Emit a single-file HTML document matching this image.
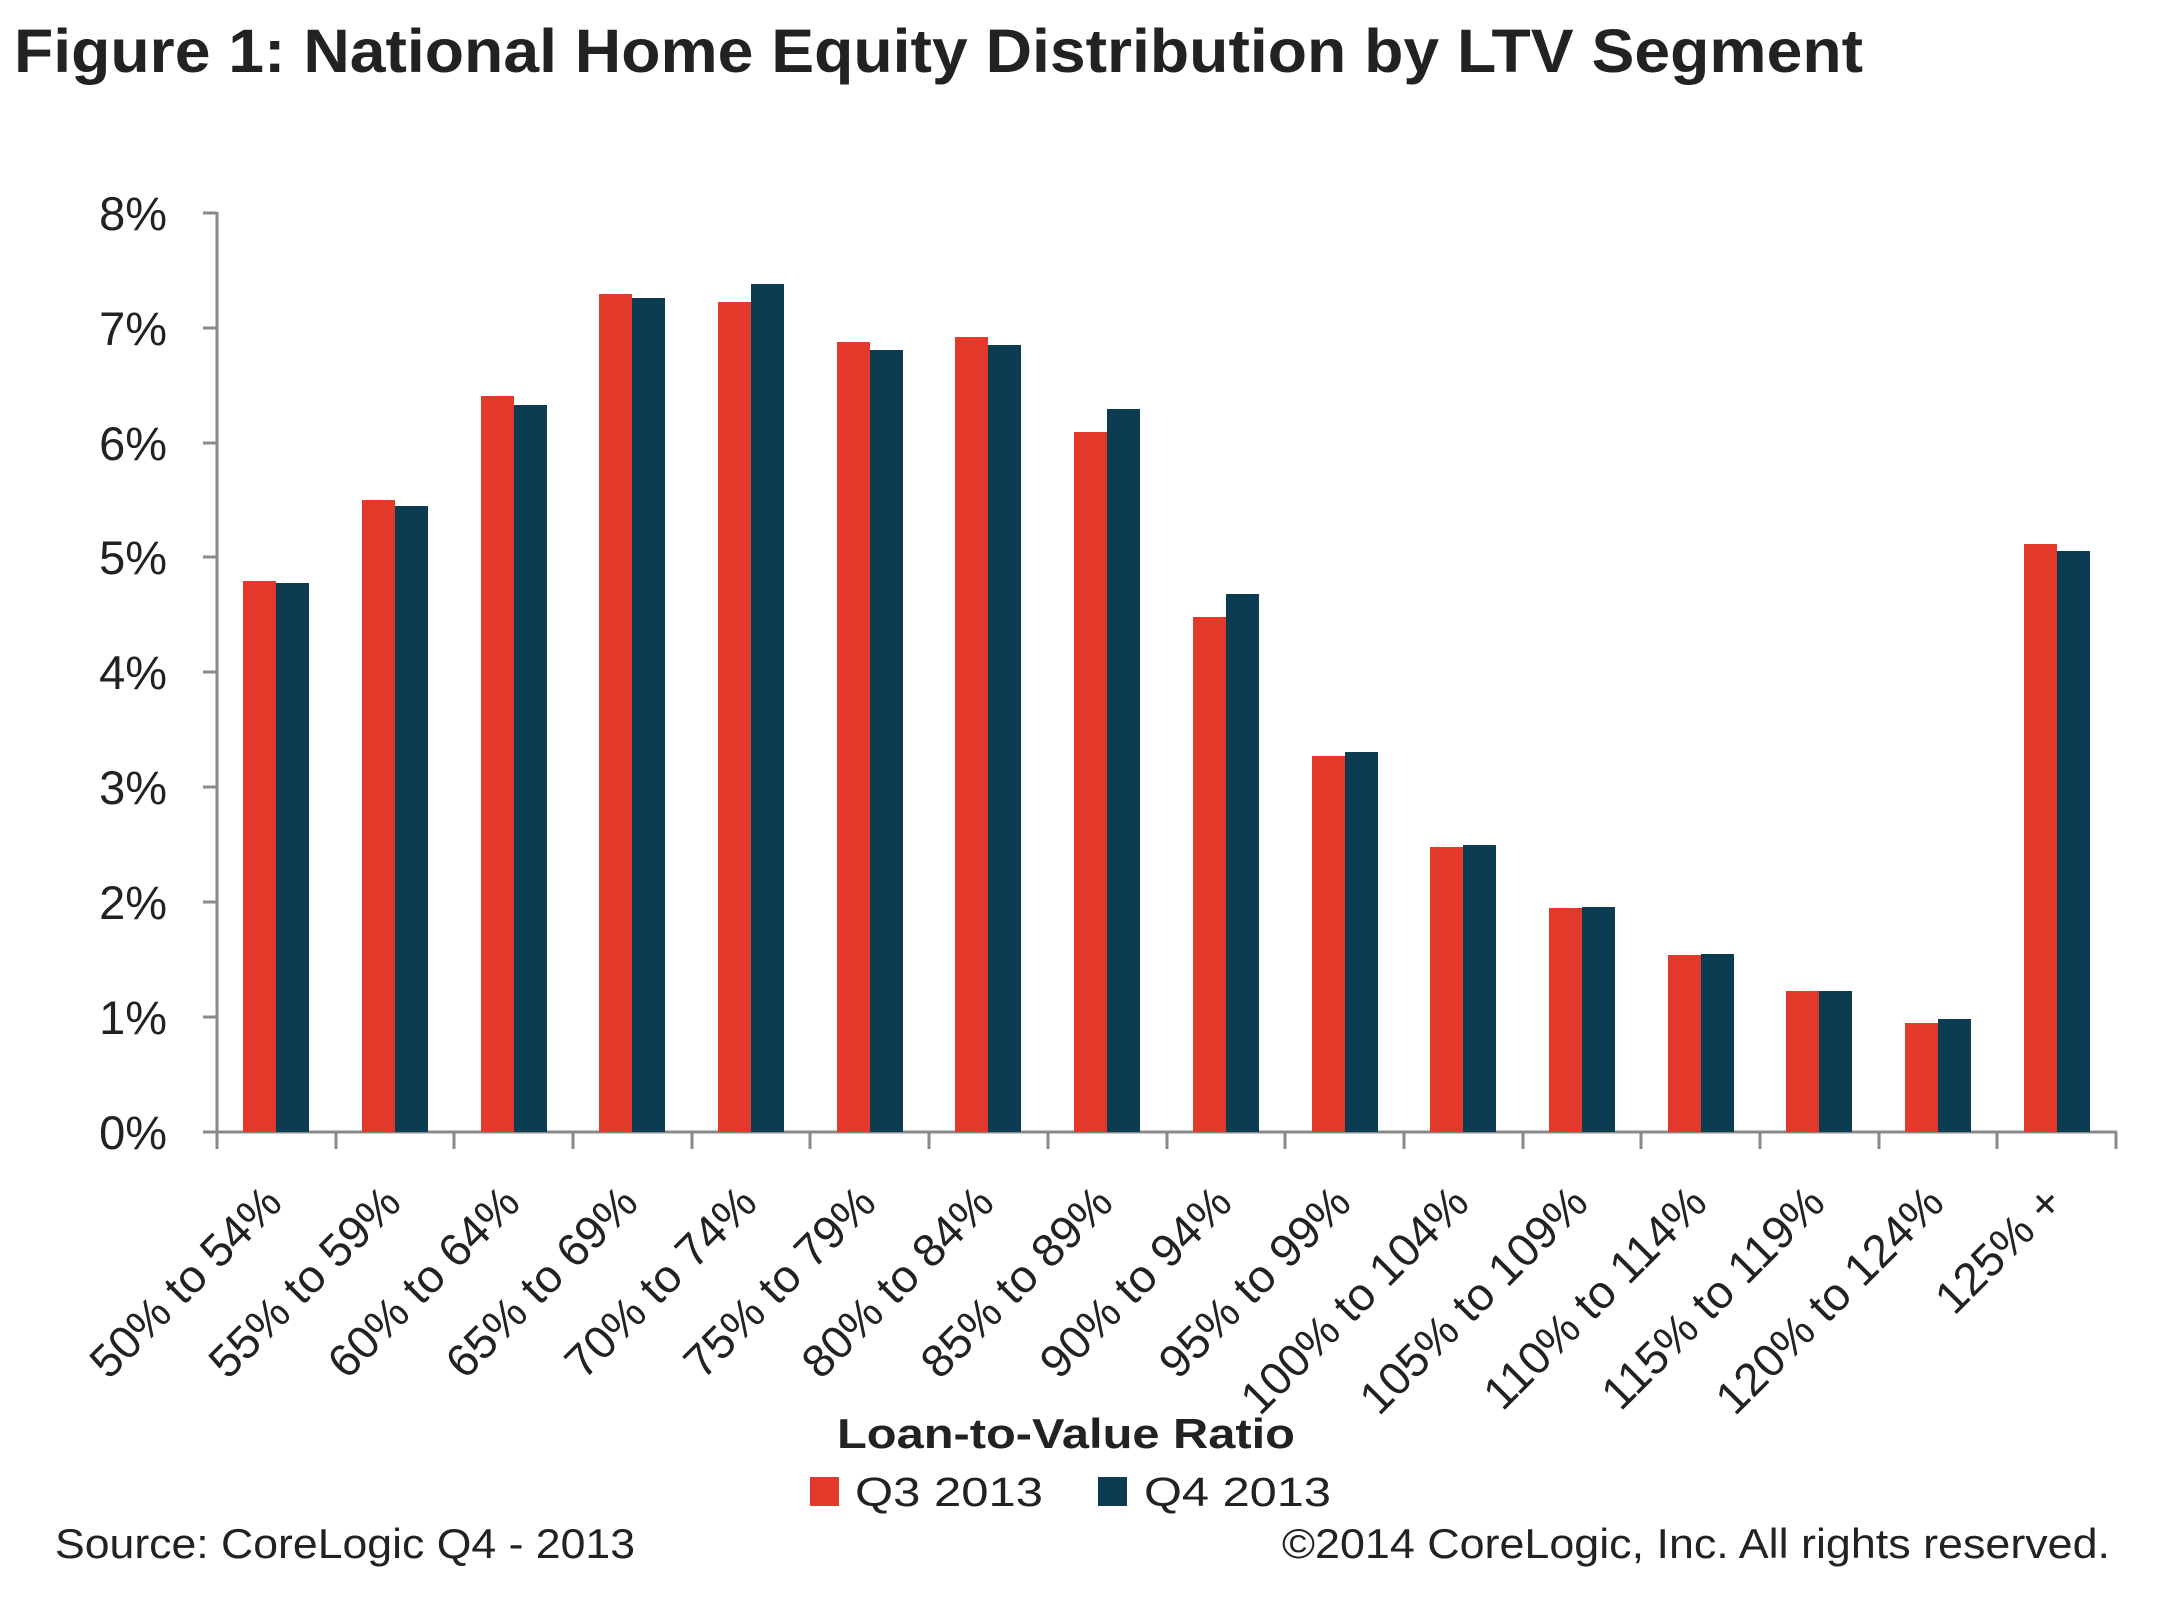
<!DOCTYPE html>
<html>
<head>
<meta charset="utf-8">
<style>
  html, body { margin: 0; padding: 0; background: #ffffff; }
  body { width: 2160px; height: 1615px; overflow: hidden; }
  svg { display: block; }
  text { font-family: "Liberation Sans", Arial, sans-serif; fill: #222; }
</style>
</head>
<body>
<svg width="2160" height="1615" viewBox="0 0 2160 1615" xmlns="http://www.w3.org/2000/svg">
  <rect x="0" y="0" width="2160" height="1615" fill="#ffffff"/>

  <!-- Title -->
  <text x="14" y="72" font-size="61" font-weight="bold" fill="#111" textLength="1849" lengthAdjust="spacingAndGlyphs">Figure 1: National Home Equity Distribution by LTV Segment</text>

  <!-- Y axis -->
  <g stroke="#8a8a8a" stroke-width="3" fill="none">
    <line x1="217" y1="212" x2="217" y2="1133"/>
    <line x1="203" y1="213" x2="217" y2="213"/>
    <line x1="203" y1="328" x2="217" y2="328"/>
    <line x1="203" y1="443" x2="217" y2="443"/>
    <line x1="203" y1="557" x2="217" y2="557"/>
    <line x1="203" y1="672" x2="217" y2="672"/>
    <line x1="203" y1="787" x2="217" y2="787"/>
    <line x1="203" y1="902" x2="217" y2="902"/>
    <line x1="203" y1="1017" x2="217" y2="1017"/>
    <line x1="203" y1="1132" x2="2117" y2="1132"/>
  </g>

  <!-- Y labels -->
  <g font-size="47" text-anchor="end" fill="#2a2a2a">
    <text x="167" y="230">8%</text>
    <text x="167" y="345">7%</text>
    <text x="167" y="460">6%</text>
    <text x="167" y="574">5%</text>
    <text x="167" y="689">4%</text>
    <text x="167" y="804">3%</text>
    <text x="167" y="919">2%</text>
    <text x="167" y="1034">1%</text>
    <text x="167" y="1149">0%</text>
  </g>

  <!-- X ticks -->
  <g stroke="#8a8a8a" stroke-width="3">
    <line x1="217" y1="1132" x2="217" y2="1149"/>
    <line x1="336" y1="1132" x2="336" y2="1149"/>
    <line x1="454" y1="1132" x2="454" y2="1149"/>
    <line x1="573" y1="1132" x2="573" y2="1149"/>
    <line x1="692" y1="1132" x2="692" y2="1149"/>
    <line x1="810" y1="1132" x2="810" y2="1149"/>
    <line x1="929" y1="1132" x2="929" y2="1149"/>
    <line x1="1048" y1="1132" x2="1048" y2="1149"/>
    <line x1="1167" y1="1132" x2="1167" y2="1149"/>
    <line x1="1285" y1="1132" x2="1285" y2="1149"/>
    <line x1="1404" y1="1132" x2="1404" y2="1149"/>
    <line x1="1523" y1="1132" x2="1523" y2="1149"/>
    <line x1="1641" y1="1132" x2="1641" y2="1149"/>
    <line x1="1760" y1="1132" x2="1760" y2="1149"/>
    <line x1="1879" y1="1132" x2="1879" y2="1149"/>
    <line x1="1997" y1="1132" x2="1997" y2="1149"/>
    <line x1="2116" y1="1132" x2="2116" y2="1149"/>
  </g>

  <!-- Bars -->
  <g fill="#e2392a">
    <rect x="243" y="581" width="33" height="551"/>
    <rect x="362" y="500" width="33" height="632"/>
    <rect x="481" y="396" width="33" height="736"/>
    <rect x="599" y="294" width="33" height="838"/>
    <rect x="718" y="302" width="33" height="830"/>
    <rect x="837" y="342" width="33" height="790"/>
    <rect x="955" y="337" width="33" height="795"/>
    <rect x="1074" y="432" width="33" height="700"/>
    <rect x="1193" y="617" width="33" height="515"/>
    <rect x="1312" y="756" width="33" height="376"/>
    <rect x="1430" y="847" width="33" height="285"/>
    <rect x="1549" y="908" width="33" height="224"/>
    <rect x="1668" y="955" width="33" height="177"/>
    <rect x="1786" y="991" width="33" height="141"/>
    <rect x="1905" y="1023" width="33" height="109"/>
    <rect x="2024" y="544" width="33" height="588"/>
  </g>
  <g fill="#0c3c52">
    <rect x="276" y="583" width="33" height="549"/>
    <rect x="395" y="506" width="33" height="626"/>
    <rect x="514" y="405" width="33" height="727"/>
    <rect x="632" y="298" width="33" height="834"/>
    <rect x="751" y="284" width="33" height="848"/>
    <rect x="870" y="350" width="33" height="782"/>
    <rect x="988" y="345" width="33" height="787"/>
    <rect x="1107" y="409" width="33" height="723"/>
    <rect x="1226" y="594" width="33" height="538"/>
    <rect x="1345" y="752" width="33" height="380"/>
    <rect x="1463" y="845" width="33" height="287"/>
    <rect x="1582" y="907" width="33" height="225"/>
    <rect x="1701" y="954" width="33" height="178"/>
    <rect x="1819" y="991" width="33" height="141"/>
    <rect x="1938" y="1019" width="33" height="113"/>
    <rect x="2057" y="551" width="33" height="581"/>
  </g>

  <!-- X labels (rotated -45) -->
  <g font-size="46" text-anchor="end" dominant-baseline="central" fill="#1e1e1e">
    <text x="273" y="1194" transform="rotate(-45 273 1194)">50% to 54%</text>
    <text x="392" y="1194" transform="rotate(-45 392 1194)">55% to 59%</text>
    <text x="511" y="1194" transform="rotate(-45 511 1194)">60% to 64%</text>
    <text x="629" y="1194" transform="rotate(-45 629 1194)">65% to 69%</text>
    <text x="748" y="1194" transform="rotate(-45 748 1194)">70% to 74%</text>
    <text x="867" y="1194" transform="rotate(-45 867 1194)">75% to 79%</text>
    <text x="985" y="1194" transform="rotate(-45 985 1194)">80% to 84%</text>
    <text x="1104" y="1194" transform="rotate(-45 1104 1194)">85% to 89%</text>
    <text x="1223" y="1194" transform="rotate(-45 1223 1194)">90% to 94%</text>
    <text x="1342" y="1194" transform="rotate(-45 1342 1194)">95% to 99%</text>
    <text x="1460" y="1194" transform="rotate(-45 1460 1194)">100% to 104%</text>
    <text x="1579" y="1194" transform="rotate(-45 1579 1194)">105% to 109%</text>
    <text x="1698" y="1194" transform="rotate(-45 1698 1194)">110% to 114%</text>
    <text x="1816" y="1194" transform="rotate(-45 1816 1194)">115% to 119%</text>
    <text x="1935" y="1194" transform="rotate(-45 1935 1194)">120% to 124%</text>
    <text x="2054" y="1194" transform="rotate(-45 2054 1194)">125% +</text>
  </g>

  <!-- Axis title -->
  <text x="837" y="1448" font-size="42" font-weight="bold" fill="#111" textLength="458" lengthAdjust="spacingAndGlyphs">Loan-to-Value Ratio</text>

  <!-- Legend -->
  <rect x="810" y="1477" width="29" height="29" fill="#e2392a"/>
  <text x="855" y="1506" font-size="41" fill="#1e1e1e" textLength="188" lengthAdjust="spacingAndGlyphs">Q3 2013</text>
  <rect x="1098" y="1477" width="29" height="29" fill="#0c3c52"/>
  <text x="1144" y="1506" font-size="41" fill="#1e1e1e" textLength="187" lengthAdjust="spacingAndGlyphs">Q4 2013</text>

  <!-- Footer -->
  <text x="55" y="1558" font-size="42" fill="#2a2a2a" textLength="580" lengthAdjust="spacingAndGlyphs">Source: CoreLogic Q4  - 2013</text>
  <text x="1282" y="1558" font-size="42" fill="#2a2a2a" textLength="828" lengthAdjust="spacingAndGlyphs">©2014 CoreLogic, Inc. All rights reserved.</text>
</svg>
</body>
</html>
